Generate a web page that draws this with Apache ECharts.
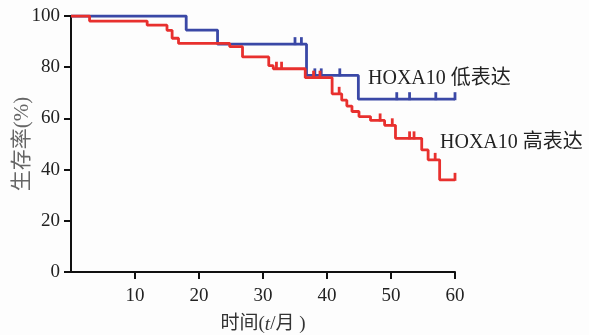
<!DOCTYPE html>
<html>
<head>
<meta charset="utf-8">
<script src="https://cdn.jsdelivr.net/npm/echarts@6/dist/echarts.min.js"></script>
<style>
html,body{margin:0;padding:0;background:#fdfdfd;}
#c{width:589px;height:335px;}
</style>
</head>
<body>
<div id="c"></div>
<script>
// Kaplan-Meier step data (time in months, survival %)
var lowTimes = [0, 18, 22.9, 36.8, 44.9, 60];
var lowSurv  = [100, 94.5, 89, 76.8, 67.5, 67.5];
var lowCensor = [35, 36, 38.1, 39.1, 42, 50.9, 52.9, 57, 60];

var highTimes = [0, 2.9, 11.9, 15, 15.8, 16.8, 24.8, 26.8, 30.9, 31.6, 36.6, 40.8, 42.3, 43.1, 43.9, 45, 46.8, 49, 50.7, 54.8, 55.8, 57.6, 60];
var highSurv  = [100, 98, 96.4, 94.4, 91.3, 89.3, 88, 84, 80.6, 79.4, 75.9, 69.6, 67.1, 64.8, 62.7, 60.7, 59.2, 57.3, 52.2, 47.7, 43.8, 36, 36];
var highCensor = [32.1, 32.9, 37.9, 38.9, 41.9, 48.3, 50.2, 52.9, 53.6, 56.9, 60];

var xTicks = [0, 10, 20, 30, 40, 50, 60];
var yTicks = [0, 20, 40, 60, 80, 100];

var lowLabel = 'HOXA10 低表达';
var highLabel = 'HOXA10 高表达';

function pairs(t, s) { return t.map(function (v, i) { return [v, s[i]]; }); }
function at(t, s, x) {
  var v = s[0];
  for (var i = 0; i < t.length; i++) { if (t[i] <= x) v = s[i]; }
  return v;
}
function censorPts(c, t, s) { return c.map(function (x) { return [x, at(t, s, x)]; }); }

var BLUE = '#3a48a6', RED = '#e8302e';
var serif = "'Liberation Serif','Noto Sans CJK SC',serif";

var chart = echarts.init(document.getElementById('c'));
chart.setOption({
  backgroundColor: '#fdfdfd',
  animation: false,
  grid: { left: 71, right: 134, top: 16, bottom: 63, containLabel: false, outerBoundsMode: 'none' },
  xAxis: {
    type: 'value', min: xTicks[0], max: xTicks[xTicks.length - 1], interval: 10,
    name: '时间({i|t}/月 )', nameLocation: 'middle', nameGap: 43, nameMoveOverlap: false,
    nameTextStyle: { fontFamily: serif, fontSize: 19, color: '#333',
      rich: { i: { fontStyle: 'italic', fontFamily: serif, fontSize: 19, color: '#333' } } },
    axisLine: { lineStyle: { color: '#111', width: 2 } },
    axisTick: { show: true, length: 7, inside: false, lineStyle: { color: '#111', width: 2 } },
    axisLabel: { fontFamily: serif, fontSize: 19, color: '#222', margin: 15, showMinLabel: false,
      formatter: function (v) { return v === 0 ? '' : String(v); } },
    splitLine: { show: false }
  },
  yAxis: {
    type: 'value', min: yTicks[0], max: yTicks[yTicks.length - 1], interval: 20,
    name: '生存率(%)', nameLocation: 'middle', nameGap: 38, nameRotate: 90, nameMoveOverlap: false,
    nameTextStyle: { fontFamily: serif, fontSize: 21, color: '#666' },
    axisLine: { show: true, lineStyle: { color: '#111', width: 2 } },
    axisTick: { show: true, length: 7, lineStyle: { color: '#111', width: 2 } },
    axisLabel: { fontFamily: serif, fontSize: 19, color: '#222', margin: 11 },
    splitLine: { show: false }
  },
  series: [
    { type: 'line', step: 'end', data: pairs(lowTimes, lowSurv), showSymbol: false, symbol: 'none',
      lineStyle: { color: BLUE, width: 2.8 }, z: 2 },
    { type: 'scatter', data: censorPts(lowCensor, lowTimes, lowSurv), symbol: 'rect',
      symbolSize: [2.8, 8], symbolOffset: [0, -3], itemStyle: { color: BLUE, opacity: 1 }, z: 2 },
    { type: 'line', step: 'end', data: pairs(highTimes, highSurv), showSymbol: false, symbol: 'none',
      lineStyle: { color: RED, width: 2.8 }, z: 3 },
    { type: 'scatter', data: censorPts(highCensor, highTimes, highSurv), symbol: 'rect',
      symbolSize: [2.8, 8], symbolOffset: [0, -3], itemStyle: { color: RED, opacity: 1 }, z: 3 }
  ],
  graphic: [
    { type: 'text', left: 368, top: 69, style: { text: lowLabel, font: "20px " + serif, fill: '#222' } },
    { type: 'text', left: 440, top: 133, style: { text: highLabel, font: "20px " + serif, fill: '#222' } }
  ]
});
</script>
</body>
</html>
